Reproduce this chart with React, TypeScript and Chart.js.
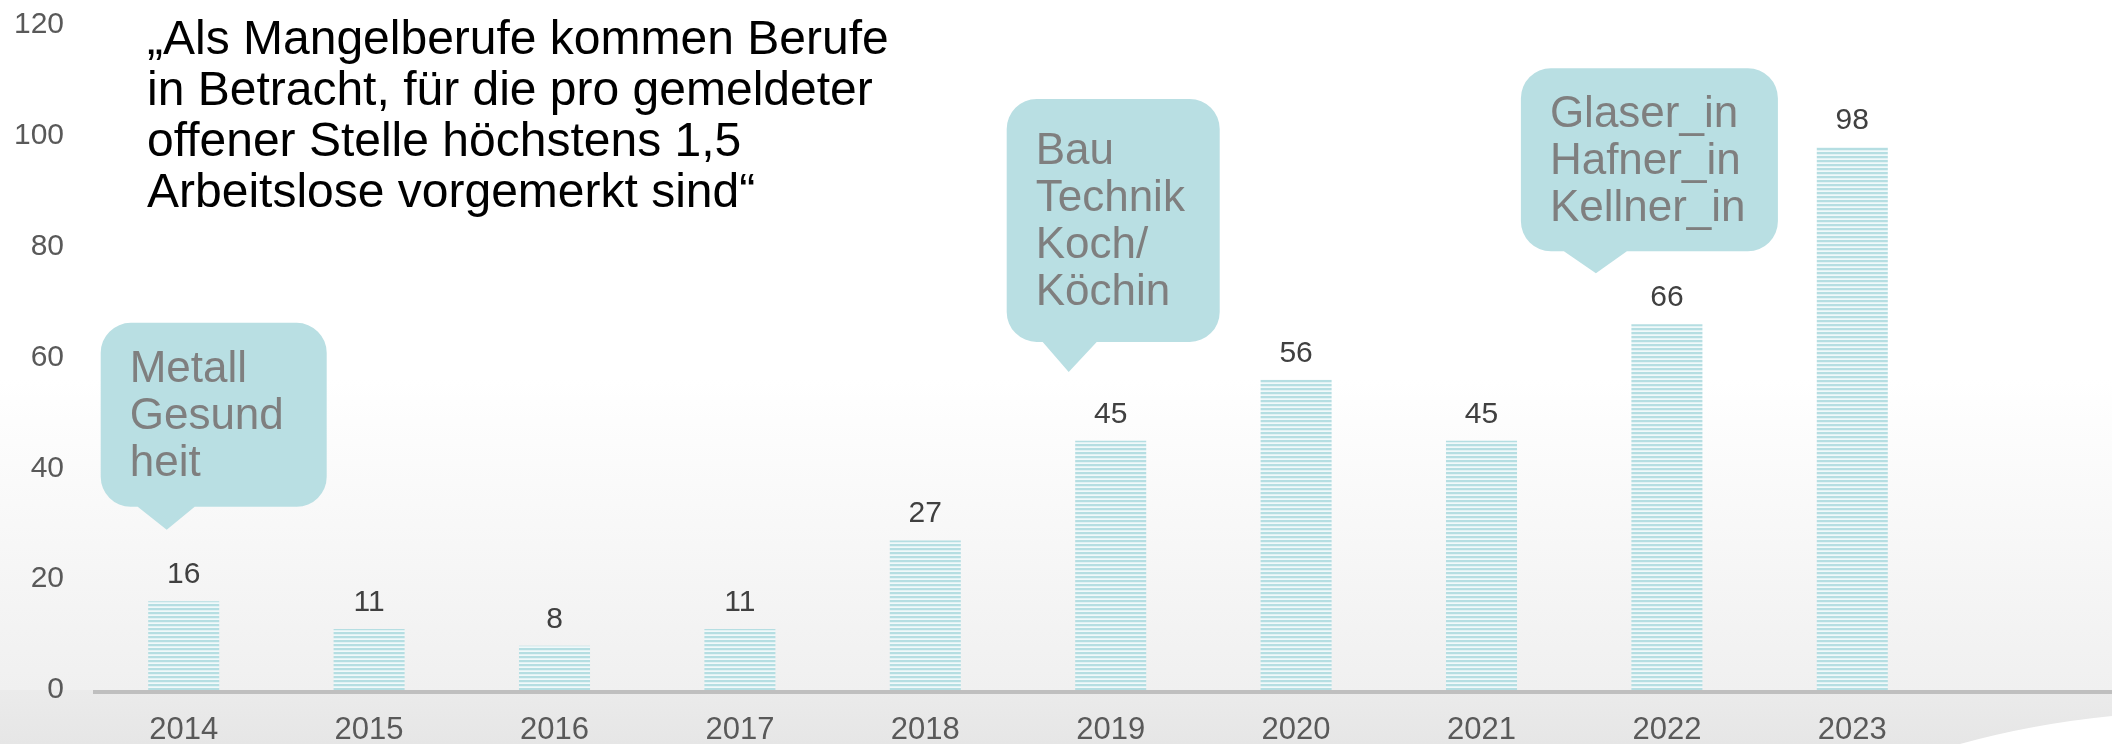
import React, { useEffect, useRef } from 'react';
import { Chart, registerables } from 'chart.js';

Chart.register(...registerables);

// ---------- data ----------
const categories = ['2014', '2015', '2016', '2017', '2018', '2019', '2020', '2021', '2022', '2023'];
const values = [16, 11, 8, 11, 27, 45, 56, 45, 66, 98];
const yMin = 0;
const yMax = 120;
const yStep = 20;

const titleLines = [
  '„Als Mangelberufe kommen Berufe',
  'in Betracht, für die pro gemeldeter',
  'offener Stelle höchstens 1,5',
  'Arbeitslose vorgemerkt sind“',
];

const calloutCategories = ['2014', '2019', '2022'];
const calloutTexts = [
  ['Metall', 'Gesund', 'heit'],
  ['Bau', 'Technik', 'Koch/', 'Köchin'],
  ['Glaser_in', 'Hafner_in', 'Kellner_in'],
];
const calloutTipValues = [28.9, 57.4, 75.2];

// ---------- styles ----------
const FONT = '"Liberation Sans", Arial, Helvetica, sans-serif';
const CALLOUT_FILL = '#b9dfe3';
const CALLOUT_TEXT = '#7f7f7f';
// pixel geometry of each callout relative to its pointer tip
const calloutGeom = [
  { dx: -17, left: -66, right: 160, top: -207, bottom: -23, baseL: -29, baseR: 28 },
  { dx: -42, left: -62, right: 151, top: -273, bottom: -30, baseL: -26, baseR: 28 },
  { dx: -71, left: -75, right: 182, top: -205, bottom: -22, baseL: -32, baseR: 31 },
];

function makePattern(): CanvasPattern | string {
  const c = document.createElement('canvas');
  c.width = 8;
  c.height = 4;
  const g = c.getContext('2d');
  if (!g) return '#c5e6e9';
  g.fillStyle = '#b5dee2';
  g.fillRect(0, 0, 8, 2);
  g.fillStyle = '#e2f2f4';
  g.fillRect(0, 2, 8, 1);
  g.fillStyle = '#f0f9fa';
  g.fillRect(0, 3, 8, 1);
  const p = g.createPattern(c, 'repeat');
  return p || '#c5e6e9';
}

function drawCallout(ctx: CanvasRenderingContext2D, tipX: number, tipY: number, g: any, lines: string[]) {
  const left = tipX + g.left;
  const right = tipX + g.right;
  const top = tipY + g.top;
  const bottom = tipY + g.bottom;
  const r = 30;
  ctx.save();
  ctx.beginPath();
  ctx.moveTo(left + r, top);
  ctx.lineTo(right - r, top);
  ctx.arcTo(right, top, right, top + r, r);
  ctx.lineTo(right, bottom - r);
  ctx.arcTo(right, bottom, right - r, bottom, r);
  ctx.lineTo(tipX + g.baseR, bottom);
  ctx.lineTo(tipX, tipY);
  ctx.lineTo(tipX + g.baseL, bottom);
  ctx.lineTo(left + r, bottom);
  ctx.arcTo(left, bottom, left, bottom - r, r);
  ctx.lineTo(left, top + r);
  ctx.arcTo(left, top, left + r, top, r);
  ctx.closePath();
  ctx.fillStyle = CALLOUT_FILL;
  ctx.fill();

  ctx.font = `44px ${FONT}`;
  ctx.fillStyle = CALLOUT_TEXT;
  ctx.textAlign = 'left';
  ctx.textBaseline = 'alphabetic';
  const lh = 47;
  const blockH = (lines.length - 1) * lh + 32;
  const center = (top + bottom) / 2;
  const firstBase = center - blockH / 2 + 32 - 2;
  lines.forEach((t, i) => ctx.fillText(t, left + 29, firstBase + i * lh));
  ctx.restore();
}

const decorPlugin = {
  id: 'decor',
  beforeDraw(chart: any) {
    const { ctx, width, height } = chart;
    const y = chart.scales.y;
    const axisY = y.getPixelForValue(0);
    ctx.save();
    const grad = ctx.createLinearGradient(0, 0, 0, axisY);
    grad.addColorStop(0, '#ffffff');
    grad.addColorStop(0.55, '#ffffff');
    grad.addColorStop(1, '#f0f0f0');
    ctx.fillStyle = grad;
    ctx.fillRect(0, 0, width, axisY);
    const grad2 = ctx.createLinearGradient(0, axisY, 0, height);
    grad2.addColorStop(0, '#ebebeb');
    grad2.addColorStop(1, '#e6e6e6');
    ctx.fillStyle = grad2;
    ctx.fillRect(0, axisY, width, height - axisY);
    // white wedge bottom right
    ctx.beginPath();
    ctx.moveTo(width - 152, height);
    ctx.quadraticCurveTo(width - 80, height - 20, width, height - 28);
    ctx.lineTo(width, height);
    ctx.closePath();
    ctx.fillStyle = '#ffffff';
    ctx.fill();
    ctx.restore();
  },
  beforeDatasetsDraw(chart: any) {
    const { ctx, width } = chart;
    const y = chart.scales.y;
    const axisY = y.getPixelForValue(0);
    ctx.save();
    ctx.fillStyle = '#bfbfbf';
    ctx.fillRect(chart.chartArea.left + 2, axisY, width - chart.chartArea.left - 2, 4);
    ctx.restore();
  },
  afterDatasetsDraw(chart: any) {
    const { ctx } = chart;
    const meta = chart.getDatasetMeta(0);
    ctx.save();
    // data labels
    ctx.font = `30px ${FONT}`;
    ctx.fillStyle = '#404040';
    ctx.textAlign = 'center';
    ctx.textBaseline = 'alphabetic';
    meta.data.forEach((bar: any, i: number) => {
      ctx.fillText(String(values[i]), bar.x, bar.y - 18);
    });
    // title
    ctx.font = `48px ${FONT}`;
    ctx.fillStyle = '#000000';
    ctx.textAlign = 'left';
    titleLines.forEach((t, i) => ctx.fillText(t, 147, 54 + i * 51));
    ctx.restore();
    // callouts
    const xs = chart.scales.x;
    const ys = chart.scales.y;
    calloutCategories.forEach((cat, i) => {
      const g = calloutGeom[i];
      const tipX = xs.getPixelForValue(categories.indexOf(cat)) + g.dx;
      const tipY = ys.getPixelForValue(calloutTipValues[i]);
      drawCallout(ctx, tipX, tipY, g, calloutTexts[i]);
    });
  },
};

export default function App() {
  const ref = useRef<HTMLCanvasElement | null>(null);
  useEffect(() => {
    document.body.style.margin = '0';
    const canvas = ref.current;
    if (!canvas) return;
    const chart = new Chart(canvas, {
      type: 'bar',
      data: {
        labels: categories,
        datasets: [
          {
            data: values,
            backgroundColor: makePattern() as any,
            borderWidth: 0,
            categoryPercentage: 1,
            barPercentage: 0.383,
          },
        ],
      },
      options: {
        responsive: false,
        animation: false,
        devicePixelRatio: 1,
        layout: { padding: { top: 25, right: 167, left: 0, bottom: 0 } },
        plugins: { legend: { display: false }, tooltip: { enabled: false }, title: { display: false } },
        scales: {
          x: {
            grid: { display: false, drawTicks: false },
            border: { display: false },
            ticks: { color: '#595959', font: { family: FONT, size: 31 }, padding: 22, maxRotation: 0 },
            afterFit: (s: any) => {
              s.height = 54;
              s.paddingLeft = 0;
              s.paddingRight = 0;
              s.paddingTop = 0;
              s.paddingBottom = 0;
            },
          },
          y: {
            min: yMin,
            max: yMax,
            grid: { display: false, drawTicks: false },
            border: { display: false },
            ticks: { stepSize: yStep, color: '#595959', font: { family: FONT, size: 30 }, padding: 27 },
            afterFit: (s: any) => {
              s.width = 91;
              s.paddingTop = 0;
              s.paddingBottom = 0;
              s.paddingLeft = 0;
              s.paddingRight = 0;
            },
          },
        },
      },
      plugins: [decorPlugin],
    });
    return () => chart.destroy();
  }, []);
  return (
    <div style={{ width: 2112, height: 744 }}>
      <canvas ref={ref} width={2112} height={744} style={{ display: 'block', width: 2112, height: 744 }} />
    </div>
  );
}
